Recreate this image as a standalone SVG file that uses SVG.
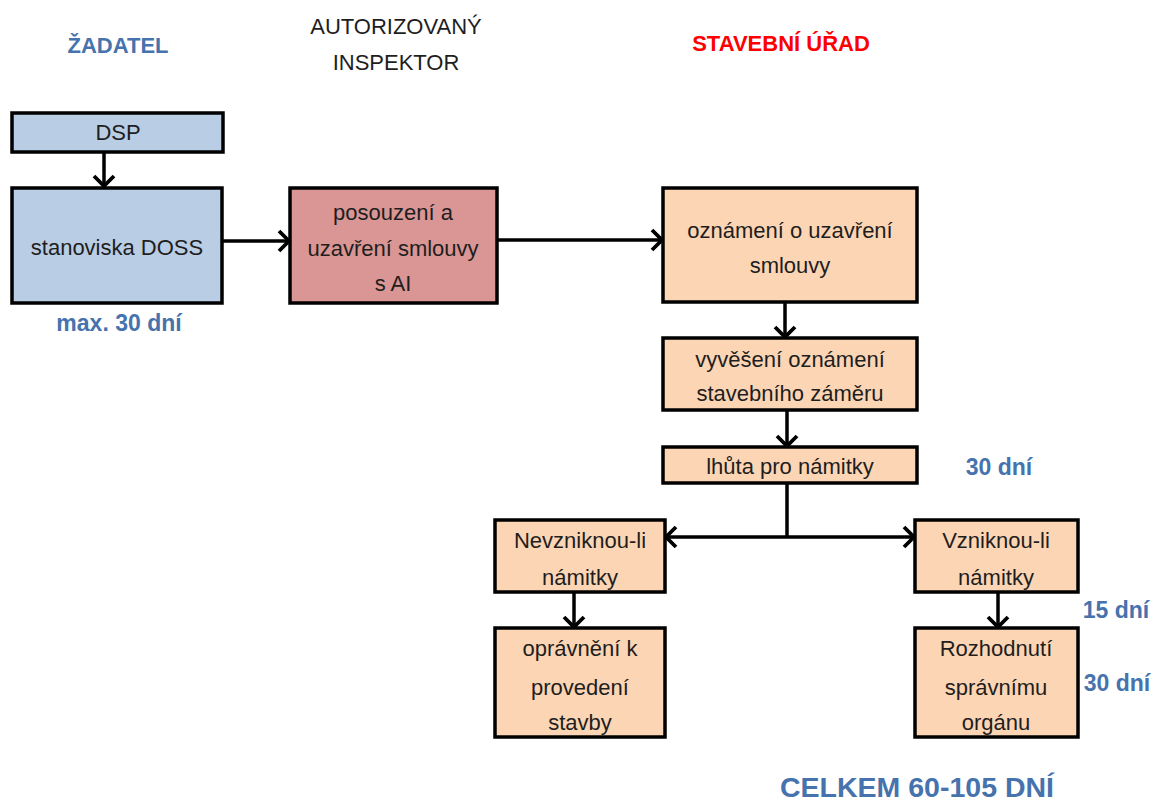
<svg xmlns="http://www.w3.org/2000/svg" width="1153" height="804" viewBox="0 0 1153 804">
<style>
.box{stroke:#000;stroke-width:3.5}
.blue{fill:#b9cde5}
.red{fill:#d99694}
.org{fill:#fcd5b4}
.t{font-family:"Liberation Sans",Arial,sans-serif;font-size:22px;fill:#1e1e1e;text-anchor:middle}
.h{font-family:"Liberation Sans",Arial,sans-serif;font-size:22px;text-anchor:middle}
.lbl{font-family:"Liberation Sans",Arial,sans-serif;font-size:23px;font-weight:bold;fill:#4673ad;text-anchor:middle}
.big{font-size:28.5px}
.c{fill:none;stroke:#000;stroke-width:3.5}
</style>
<defs>
<marker id="ah" markerUnits="userSpaceOnUse" markerWidth="16" markerHeight="26" refX="13" refY="13" orient="auto">
<path d="M3,3 L13,13 L3,23" fill="none" stroke="#000" stroke-width="3.8"/>
</marker>
</defs>
<g id="headers">
<text class="h" x="118" y="53" font-weight="bold" fill="#4673ad">ŽADATEL</text>
<text class="h" x="396" y="34" fill="#1e1e1e">AUTORIZOVANÝ</text>
<text class="h" x="396" y="70" fill="#1e1e1e">INSPEKTOR</text>
<text class="h" x="781" y="51" font-weight="bold" fill="#ff0000">STAVEBNÍ ÚŘAD</text>
</g>
<g id="connectors">
<line class="c" x1="104" y1="152" x2="104" y2="186" marker-end="url(#ah)"/>
<line class="c" x1="222" y1="241" x2="289" y2="241" marker-end="url(#ah)"/>
<line class="c" x1="497" y1="240" x2="662" y2="240" marker-end="url(#ah)"/>
<line class="c" x1="785" y1="302" x2="785" y2="337" marker-end="url(#ah)"/>
<line class="c" x1="787" y1="410" x2="787" y2="446" marker-end="url(#ah)"/>
<line class="c" x1="787" y1="483" x2="787" y2="538"/>
<line class="c" x1="787" y1="537" x2="666" y2="537" marker-end="url(#ah)"/>
<line class="c" x1="787" y1="537" x2="914" y2="537" marker-end="url(#ah)"/>
<line class="c" x1="574" y1="592" x2="574" y2="627" marker-end="url(#ah)"/>
<line class="c" x1="998" y1="592" x2="998" y2="627" marker-end="url(#ah)"/>
</g>
<g id="dsp"><rect class="box blue" x="12" y="113" width="211" height="39"/><text class="t" x="118" y="140">DSP</text></g>
<g id="doss"><rect class="box blue" x="12" y="188" width="210" height="115"/><text class="t" x="117" y="255">stanoviska DOSS</text></g>
<g id="posouzeni"><rect class="box red" x="290" y="188" width="207" height="115"/>
<text class="t" x="393" y="220">posouzení a</text><text class="t" x="393" y="256">uzavření smlouvy</text><text class="t" x="393" y="291">s AI</text></g>
<g id="oznameni"><rect class="box org" x="663" y="188" width="254" height="114"/>
<text class="t" x="790" y="238">oznámení o uzavření</text><text class="t" x="790" y="273">smlouvy</text></g>
<g id="vyveseni"><rect class="box org" x="663" y="338" width="254" height="72"/>
<text class="t" x="790" y="367">vyvěšení oznámení</text><text class="t" x="790" y="401">stavebního záměru</text></g>
<g id="lhuta"><rect class="box org" x="663" y="447" width="254" height="36"/>
<text class="t" x="790" y="474">lhůta pro námitky</text></g>
<g id="nevzniknou"><rect class="box org" x="495" y="520" width="170" height="72"/>
<text class="t" x="580" y="548">Nevzniknou-li</text><text class="t" x="580" y="585">námitky</text></g>
<g id="opravneni"><rect class="box org" x="495" y="628" width="170" height="109"/>
<text class="t" x="580" y="656">oprávnění k</text><text class="t" x="580" y="695">provedení</text><text class="t" x="580" y="730">stavby</text></g>
<g id="vzniknou"><rect class="box org" x="915" y="520" width="163" height="72"/>
<text class="t" x="996" y="548">Vzniknou-li</text><text class="t" x="996" y="585">námitky</text></g>
<g id="rozhodnuti"><rect class="box org" x="915" y="628" width="163" height="109"/>
<text class="t" x="996" y="656">Rozhodnutí</text><text class="t" x="996" y="695">správnímu</text><text class="t" x="996" y="730">orgánu</text></g>
<g id="labels">
<text class="lbl" x="119" y="331">max. 30 dní</text>
<text class="lbl" x="999" y="475">30 dní</text>
<text class="lbl" x="1116" y="618">15 dní</text>
<text class="lbl" x="1117" y="691">30 dní</text>
<text class="lbl big" x="917" y="797">CELKEM 60-105 DNÍ</text>
</g>
</svg>
